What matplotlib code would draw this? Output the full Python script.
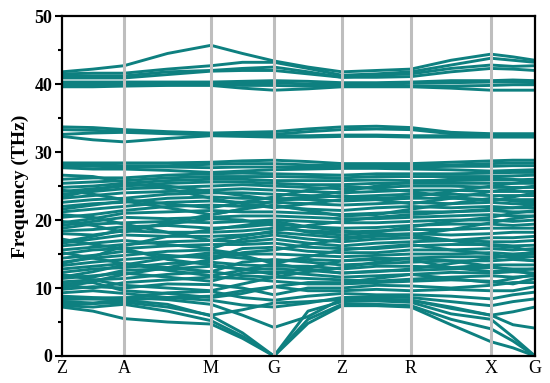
import matplotlib
matplotlib.use("Agg")
import matplotlib.pyplot as plt
from matplotlib.ticker import MultipleLocator

# High-symmetry path
k_labels = ["Z", "A", "M", "G", "Z", "R", "X", "G"]
k_pos = [0.0, 0.62, 1.49, 2.12, 2.80, 3.49, 4.29, 4.73]

# Band frequencies (THz) sampled at: Z, mid, A, mid, M, mid, G, mid, Z, mid, R, mid, X, mid, G
acoustic_bands = [
    [7.2, 6.6, 5.5, 5.0, 4.7, 2.6, 0.0, 4.8, 7.4, 7.4, 7.2, 4.6, 2.1, 1.2, 0.0],
    [7.4, 7.2, 7.6, 6.6, 5.2, 2.9, 0.0, 5.4, 7.6, 7.6, 7.4, 5.4, 4.0, 2.2, 0.0],
    [8.0, 7.8, 8.2, 7.6, 5.9, 3.4, 0.0, 6.6, 8.0, 8.1, 7.9, 6.2, 5.4, 2.8, 0.0],
    [8.6, 8.4, 8.6, 8.3, 7.6, 6.0, 4.2, 5.8, 8.4, 8.4, 8.2, 7.2, 6.0, 4.6, 4.1],
]

dense_bands = [
    [7.6, 7.7, 7.9, 7.2, 6.0, 6.8, 7.8, 8.0, 8.3, 8.3, 8.2, 7.0, 6.0, 6.5, 7.2],
    [8.3, 8.4, 8.2, 8.6, 8.2, 7.5, 7.2, 7.8, 8.6, 8.7, 8.6, 8.0, 7.4, 8.0, 8.4],
    [8.8, 8.6, 8.5, 9.3, 9.5, 8.6, 8.2, 8.8, 9.2, 9.0, 9.0, 8.8, 8.4, 9.0, 9.4],
    [9.3, 9.6, 9.2, 8.6, 8.8, 9.6, 10.2, 9.6, 9.6, 9.8, 9.6, 9.8, 9.6, 9.6, 10.2],
    [9.8, 10.2, 10.0, 10.6, 10.5, 10.0, 9.0, 10.0, 10.0, 10.4, 10.3, 10.0, 10.4, 10.8, 10.8],
    [10.4, 10.0, 10.8, 11.2, 11.6, 11.4, 11.0, 10.6, 10.6, 10.8, 11.0, 11.2, 11.0, 10.6, 11.4],
    [10.9, 11.2, 11.4, 12.0, 12.4, 11.8, 11.6, 11.4, 11.2, 11.0, 11.3, 11.6, 11.8, 11.6, 11.8],
    [11.4, 11.8, 12.2, 11.6, 11.0, 12.2, 12.4, 12.0, 11.6, 11.8, 12.0, 12.3, 12.2, 12.4, 12.2],
    [11.8, 11.6, 12.6, 12.8, 13.2, 12.8, 12.8, 12.6, 12.2, 12.5, 12.6, 12.8, 13.0, 12.8, 12.8],
    [12.3, 12.8, 13.0, 13.6, 13.8, 13.4, 13.2, 13.2, 12.8, 13.2, 13.2, 13.0, 13.4, 13.4, 13.4],
    [12.8, 13.2, 13.6, 13.0, 12.4, 13.8, 14.2, 13.8, 13.4, 13.6, 13.8, 14.0, 14.0, 14.2, 14.0],
    [13.3, 13.8, 14.2, 14.6, 14.8, 14.4, 14.0, 14.2, 14.0, 14.2, 14.4, 14.6, 14.6, 14.6, 14.6],
    [13.8, 14.4, 14.8, 15.4, 15.6, 15.0, 15.0, 14.8, 14.6, 14.8, 15.0, 15.0, 15.2, 15.0, 15.2],
    [14.4, 14.8, 15.4, 14.8, 14.4, 15.8, 16.0, 15.4, 15.2, 15.2, 15.6, 15.6, 15.8, 15.6, 15.8],
    [15.0, 15.6, 15.8, 16.2, 16.4, 16.4, 16.6, 16.0, 15.8, 15.8, 16.2, 16.4, 16.4, 16.2, 16.3],
    [15.6, 16.0, 16.4, 16.8, 17.0, 16.8, 17.2, 16.6, 16.2, 16.6, 16.8, 17.0, 16.8, 16.8, 17.0],
    [16.2, 16.6, 17.0, 16.4, 15.8, 17.2, 17.8, 17.2, 16.8, 17.2, 17.4, 17.0, 17.4, 17.4, 17.6],
    [16.6, 17.2, 17.8, 17.6, 17.6, 17.8, 18.2, 17.8, 17.4, 17.8, 18.0, 17.8, 18.0, 18.2, 18.2],
    [18.0, 17.8, 18.4, 18.2, 18.2, 18.4, 18.8, 18.4, 18.2, 18.4, 18.6, 18.6, 18.8, 18.8, 18.8],
    [18.4, 18.6, 19.0, 19.2, 18.8, 19.0, 19.4, 19.0, 18.8, 18.9, 19.2, 19.4, 19.4, 19.2, 19.4],
    [18.8, 19.4, 19.6, 19.8, 19.6, 19.8, 20.0, 19.8, 19.6, 19.6, 19.8, 20.0, 20.0, 19.8, 20.0],
    [19.2, 19.8, 20.4, 20.2, 20.4, 20.6, 20.6, 20.4, 20.2, 20.2, 20.4, 20.6, 20.8, 20.6, 20.6],
    [19.6, 20.2, 21.0, 21.2, 21.4, 21.2, 21.2, 21.0, 20.8, 21.0, 21.2, 21.2, 21.4, 21.2, 21.2],
    [20.4, 20.8, 21.4, 22.0, 22.2, 22.0, 22.0, 21.6, 21.4, 21.8, 22.0, 21.8, 22.0, 21.8, 21.8],
    [21.2, 21.6, 22.0, 22.6, 22.8, 22.6, 22.6, 22.4, 22.2, 22.4, 22.6, 22.4, 22.6, 22.4, 22.4],
    [22.0, 22.4, 22.6, 23.2, 23.4, 23.2, 23.2, 23.0, 22.8, 23.0, 23.2, 23.2, 23.0, 23.0, 23.0],
    [22.6, 23.0, 23.2, 23.8, 24.0, 24.0, 23.8, 23.6, 23.4, 23.6, 23.8, 23.8, 23.6, 23.6, 23.6],
    [23.2, 23.6, 24.0, 24.2, 24.4, 24.6, 24.4, 24.2, 24.0, 24.2, 24.4, 24.4, 24.2, 24.2, 24.2],
    [23.8, 24.2, 24.6, 24.8, 25.0, 25.2, 25.0, 24.8, 24.6, 24.8, 25.0, 25.0, 24.8, 24.8, 24.8],
    [24.2, 24.6, 25.0, 25.4, 25.6, 25.6, 25.4, 25.2, 25.2, 25.4, 25.4, 25.4, 25.4, 25.4, 25.4],
    [24.8, 25.0, 25.4, 25.8, 26.0, 26.0, 25.8, 25.8, 25.8, 25.9, 25.8, 25.8, 25.9, 25.9, 26.0],
    [25.4, 25.6, 25.8, 26.2, 26.4, 26.4, 26.4, 26.3, 26.2, 26.4, 26.4, 26.4, 26.4, 26.5, 26.6],
    [26.0, 26.2, 26.2, 26.6, 26.8, 26.9, 26.8, 26.7, 26.6, 26.8, 26.8, 26.8, 26.9, 27.0, 27.0],
]

crossing_bands = [
    [17.2, 16.4, 15.8, 14.2, 13.4, 12.8, 12.0, 13.0, 14.0, 14.4, 14.2, 13.0, 12.4, 12.6, 12.8],
    [10.0, 11.0, 12.0, 13.0, 14.2, 15.2, 15.6, 16.4, 17.2, 17.6, 17.8, 17.0, 16.2, 16.0, 15.4],
    [20.8, 20.4, 19.4, 18.2, 17.0, 17.6, 18.4, 19.2, 19.8, 20.4, 20.8, 21.2, 21.6, 21.8, 22.2],
    [13.6, 14.6, 16.2, 17.6, 18.6, 19.2, 19.8, 19.0, 18.4, 18.0, 17.8, 18.6, 19.6, 20.2, 20.6],
    [26.6, 26.4, 25.6, 24.6, 23.2, 22.4, 21.8, 22.4, 23.0, 23.2, 23.4, 24.2, 25.0, 25.4, 25.8],
    [11.6, 12.4, 13.4, 14.4, 15.2, 14.8, 13.6, 12.8, 12.2, 12.4, 12.8, 13.6, 14.4, 14.8, 15.0],
    [21.6, 22.2, 22.8, 21.8, 20.8, 21.6, 22.8, 23.2, 23.6, 23.0, 22.4, 23.2, 24.2, 24.6, 25.0],
    [24.4, 23.8, 23.0, 22.4, 21.8, 22.6, 23.4, 24.4, 25.0, 24.6, 24.2, 23.4, 22.8, 23.4, 24.0],
    [19.8, 19.2, 18.2, 19.6, 20.8, 21.6, 22.2, 21.4, 20.6, 20.8, 21.6, 22.4, 23.2, 22.8, 22.6],
    [16.8, 17.6, 18.6, 19.4, 20.2, 20.0, 19.2, 18.2, 17.8, 18.2, 19.0, 19.8, 20.4, 21.0, 21.4],
    [15.2, 14.4, 13.6, 12.6, 11.8, 12.6, 13.6, 14.6, 15.6, 16.0, 16.4, 15.6, 15.0, 14.4, 14.0],
    [23.4, 24.4, 25.2, 25.0, 24.2, 23.6, 23.0, 23.4, 24.2, 25.0, 25.6, 26.0, 26.2, 26.0, 25.6],
    [12.0, 11.2, 10.4, 10.0, 9.6, 10.6, 11.6, 12.4, 13.0, 13.8, 14.4, 14.0, 13.2, 12.6, 12.0],
    [10.6, 10.8, 9.6, 9.2, 8.6, 9.2, 10.2, 10.8, 10.8, 11.4, 12.0, 11.4, 10.8, 11.4, 12.0],
]

band28_group = [
    [28.4, 28.4, 28.4, 28.4, 28.5, 28.7, 28.8, 28.6, 28.3, 28.3, 28.3, 28.5, 28.7, 28.8, 28.8],
    [28.1, 28.1, 28.0, 28.0, 28.2, 28.3, 28.3, 28.1, 28.0, 28.0, 28.0, 28.1, 28.3, 28.4, 28.4],
    [27.9, 27.9, 27.8, 27.8, 27.7, 27.8, 27.8, 27.8, 27.8, 27.8, 27.8, 27.9, 27.9, 28.0, 28.0],
    [27.7, 27.5, 27.5, 27.3, 27.0, 27.2, 27.4, 27.5, 27.6, 27.6, 27.5, 27.4, 27.2, 27.3, 27.4],
]

band33_group = [
    [33.7, 33.6, 33.3, 33.0, 32.8, 32.9, 33.0, 33.4, 33.7, 33.8, 33.6, 32.9, 32.7, 32.7, 32.7],
    [33.3, 33.2, 33.0, 32.8, 32.6, 32.6, 32.6, 33.0, 33.3, 33.4, 33.3, 32.7, 32.5, 32.5, 32.5],
    [32.6, 32.8, 32.9, 32.7, 32.5, 32.5, 32.4, 32.4, 32.5, 32.5, 32.4, 32.4, 32.4, 32.4, 32.4],
    [32.3, 31.8, 31.5, 32.0, 32.4, 32.3, 32.2, 32.2, 32.3, 32.3, 32.2, 32.2, 32.2, 32.2, 32.2],
]

band40_group = [
    [41.8, 42.2, 42.7, 44.5, 45.7, 44.5, 43.4, 42.5, 41.8, 42.0, 42.2, 43.5, 44.4, 44.0, 43.5],
    [41.5, 41.6, 41.6, 42.2, 42.7, 43.2, 43.2, 42.3, 41.3, 41.5, 41.8, 42.8, 43.8, 43.5, 43.2],
    [41.2, 41.2, 41.2, 41.8, 42.0, 42.3, 42.5, 41.8, 41.0, 41.3, 41.5, 42.3, 42.8, 42.6, 42.7],
    [40.9, 40.9, 40.9, 41.4, 41.9, 42.0, 42.0, 41.5, 41.0, 41.0, 41.1, 41.8, 42.3, 42.2, 42.0],
    [40.3, 40.3, 40.3, 40.3, 40.3, 40.4, 40.5, 40.4, 40.2, 40.2, 40.3, 40.5, 40.5, 40.6, 40.5],
    [40.0, 40.0, 40.0, 40.1, 40.1, 40.2, 40.2, 40.0, 40.0, 40.0, 40.1, 40.2, 40.3, 40.3, 40.2],
    [39.8, 39.8, 39.8, 39.9, 40.0, 39.8, 39.8, 39.7, 39.7, 39.7, 39.7, 39.7, 39.8, 39.9, 39.9],
    [39.6, 39.6, 39.7, 39.8, 39.8, 39.4, 39.1, 39.3, 39.6, 39.6, 39.6, 39.4, 39.1, 39.1, 39.1],
]

# node positions along the path: each high-symmetry point plus segment midpoints
k_nodes = []
for i in range(len(k_pos) - 1):
    k_nodes.append(k_pos[i])
    k_nodes.append(0.5 * (k_pos[i] + k_pos[i + 1]))
k_nodes.append(k_pos[-1])

plt.rcParams["font.family"] = ["Liberation Serif", "DejaVu Serif"]

fig = plt.figure(figsize=(5.5, 3.83), dpi=100)
ax = fig.add_axes([0.1127, 0.0705, 0.86, 0.8875])

band_color = "#0E8080"
for group in (acoustic_bands, dense_bands, crossing_bands, band28_group,
              band33_group, band40_group):
    for band in group:
        ax.plot(k_nodes, band, color=band_color, lw=2.1, solid_capstyle="round",
                solid_joinstyle="round", zorder=2)

for x in k_pos[1:-1]:
    ax.axvline(x, color="#BEBEBE", lw=2.2, zorder=3)

ax.set_xlim(k_pos[0], k_pos[-1])
ax.set_ylim(0, 50)
ax.set_xticks(k_pos)
ax.set_xticklabels(k_labels, fontsize=13)
ax.tick_params(axis="x", length=0, pad=3)
ax.yaxis.set_major_locator(MultipleLocator(10))
ax.yaxis.set_minor_locator(MultipleLocator(5))
ax.tick_params(axis="y", which="major", direction="out", length=5, width=1.5,
               labelsize=13, pad=2)
ax.tick_params(axis="y", which="minor", direction="out", length=3, width=1.5)
for lab in ax.get_yticklabels():
    lab.set_fontweight("bold")
for sp in ax.spines.values():
    sp.set_linewidth(1.6)
    sp.set_zorder(4)
ax.set_ylabel("Frequency (THz)", fontsize=14, fontweight="bold", labelpad=4)

fig.savefig("out.png", dpi=100)
